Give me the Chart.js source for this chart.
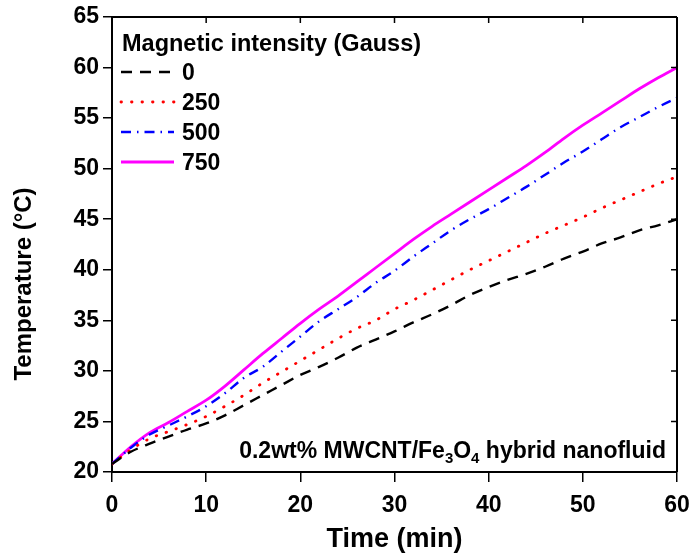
<!DOCTYPE html>
<html>
<head>
<meta charset="utf-8">
<script src="https://cdn.jsdelivr.net/npm/chart.js@4.4.1/dist/chart.umd.min.js"></script>
<style>
  html, body { margin: 0; padding: 0; background: #fff; }
  #wrap { width: 690px; height: 560px; position: relative; }
</style>
</head>
<body>
<div id="wrap"><canvas id="c" width="690" height="560"></canvas></div>
<script>
// ---- data ----
const timeMin = [0, 2, 4, 6, 8, 10, 12, 14, 16, 18, 20, 22, 24, 26, 28, 30,
                 32, 34, 36, 38, 40, 42, 44, 46, 48, 50, 52, 54, 56, 58, 60];
const gauss0 = [20.8, 22.0, 22.8, 23.5, 24.2, 24.8, 25.6, 26.6, 27.6, 28.6, 29.6,
                30.4, 31.3, 32.3, 33.1, 33.9, 34.8, 35.6, 36.5, 37.5, 38.3,
                39.0, 39.6, 40.3, 41.1, 41.8, 42.6, 43.2, 43.9, 44.4, 45.0];
const gauss250 = [20.8, 22.2, 23.3, 24.0, 24.7, 25.5, 26.5, 27.6, 28.8, 29.9, 31.0,
                  32.1, 33.2, 34.2, 35.0, 36.1, 37.0, 38.0, 39.0, 40.0, 40.9,
                  41.8, 42.7, 43.6, 44.4, 45.2, 46.1, 46.9, 47.7, 48.5, 49.2];
const gauss500 = [20.8, 22.4, 23.7, 24.6, 25.5, 26.5, 27.8, 29.3, 30.4, 31.9, 33.4,
                  34.9, 36.1, 37.3, 38.7, 39.9, 41.3, 42.6, 43.9, 45.0, 46.0,
                  47.1, 48.2, 49.4, 50.6, 51.7, 52.9, 54.1, 55.1, 56.1, 57.0];
const gauss750 = [20.8, 22.5, 23.9, 24.9, 26.0, 27.1, 28.5, 30.1, 31.7, 33.2, 34.7,
                  36.1, 37.4, 38.8, 40.2, 41.6, 43.0, 44.3, 45.5, 46.7, 47.9,
                  49.1, 50.3, 51.6, 53.0, 54.3, 55.5, 56.7, 57.9, 59.0, 60.0];
const seriesLabels = ['0', '250', '500', '750'];
const legendTitle = 'Magnetic intensity (Gauss)';
const xTitle = 'Time (min)';
const yTitle = 'Temperature (\u00B0C)';
const xTicks = [0, 10, 20, 30, 40, 50, 60];
const yTicks = [20, 25, 30, 35, 40, 45, 50, 55, 60, 65];

const FONT = '"Liberation Sans", Arial, sans-serif';

function pts(ys) { return ys.map((y, i) => ({ x: timeMin[i], y })); }

const styles = [
  { color: '#000000', dash: [11, 8], width: 2.4, cap: 'butt' },
  { color: '#ff0000', dash: [0.5, 10], width: 2.8, cap: 'round' },
  { color: '#0000ff', dash: [10, 6, 1.5, 6], width: 2.4, cap: 'butt' },
  { color: '#ff00ff', dash: [], width: 2.8, cap: 'butt' }
];
const allSeries = [gauss0, gauss250, gauss500, gauss750];

const datasets = allSeries.map((s, i) => ({
  label: seriesLabels[i],
  data: pts(s),
  borderColor: styles[i].color,
  backgroundColor: styles[i].color,
  borderDash: styles[i].dash,
  borderWidth: styles[i].width,
  borderCapStyle: styles[i].cap,
  pointRadius: 0,
  cubicInterpolationMode: 'monotone',
  fill: false
}));

const framePlugin = {
  id: 'frame',
  afterDraw(chart) {
    const { ctx, chartArea: a, scales } = chart;
    ctx.save();
    ctx.strokeStyle = '#000';
    ctx.lineWidth = 2;
    ctx.beginPath();
    ctx.moveTo(a.left, a.top); ctx.lineTo(a.right, a.top);
    ctx.moveTo(a.right, a.top); ctx.lineTo(a.right, a.bottom);
    ctx.stroke();
    ctx.lineWidth = 1.5;
    ctx.beginPath();
    xTicks.forEach(v => {
      const x = scales.x.getPixelForValue(v);
      ctx.moveTo(x, a.top); ctx.lineTo(x, a.top + 6);
    });
    yTicks.forEach(v => {
      const y = scales.y.getPixelForValue(v);
      ctx.moveTo(a.right, y); ctx.lineTo(a.right - 6, y);
    });
    ctx.stroke();

    // y-axis title (placed lower than the axis centre, as in the reference)
    ctx.save();
    ctx.fillStyle = '#000';
    ctx.font = 'bold 24px ' + FONT;
    ctx.textAlign = 'center';
    ctx.textBaseline = 'middle';
    ctx.translate(24, 284);
    ctx.rotate(-Math.PI / 2);
    ctx.fillText(yTitle, 0, 0);
    ctx.restore();

    // legend
    ctx.fillStyle = '#000';
    ctx.textBaseline = 'alphabetic';
    ctx.textAlign = 'left';
    ctx.font = 'bold 23.5px ' + FONT;
    ctx.fillText(legendTitle, 122, 51);
    chart.data.datasets.forEach((ds, i) => {
      const yc = 72 + i * 30;
      ctx.save();
      ctx.strokeStyle = ds.borderColor;
      ctx.lineWidth = ds.borderWidth;
      ctx.setLineDash(ds.borderDash);
      ctx.lineCap = ds.borderCapStyle;
      ctx.beginPath();
      ctx.moveTo(121, yc); ctx.lineTo(174, yc);
      ctx.stroke();
      ctx.restore();
      ctx.fillStyle = '#000';
      ctx.font = 'bold 23px ' + FONT;
      ctx.fillText(ds.label, 182, yc + 8);
    });

    // annotation with subscripts
    const parts = [
      ['0.2wt% MWCNT/Fe', false], ['3', true], ['O', false], ['4', true], [' hybrid nanofluid', false]
    ];
    const big = 'bold 23px ' + FONT, small = 'bold 15px ' + FONT;
    let total = 0;
    parts.forEach(p => { ctx.font = p[1] ? small : big; total += ctx.measureText(p[0]).width; });
    let x = 666 - total;
    const base = 458;
    parts.forEach(p => {
      ctx.font = p[1] ? small : big;
      ctx.fillText(p[0], x, p[1] ? base + 5 : base);
      x += ctx.measureText(p[0]).width;
    });
    ctx.restore();
  }
};

new Chart(document.getElementById('c'), {
  type: 'line',
  data: { datasets },
  options: {
    responsive: false,
    animation: false,
    devicePixelRatio: 1,
    layout: { padding: { left: 0, right: 13, top: 17, bottom: 0 } },
    plugins: { legend: { display: false }, tooltip: { enabled: false } },
    scales: {
      x: {
        type: 'linear', min: 0, max: 60,
        afterBuildTicks(scale) { scale.ticks = xTicks.map(v => ({ value: v })); },
        afterFit(scale) { scale.height = 88; scale.paddingRight = 0; scale.paddingLeft = 0; },
        ticks: { color: '#000', font: { family: FONT, size: 23, weight: 'bold' }, padding: 10, maxRotation: 0 },
        grid: { drawOnChartArea: false, drawTicks: true, tickLength: 10, color: '#000', lineWidth: 1.5 },
        border: { display: true, color: '#000', width: 2 },
        title: { display: true, text: xTitle, color: '#000', font: { family: FONT, size: 27, weight: 'bold' }, padding: { top: 4 } }
      },
      y: {
        type: 'linear', min: 20, max: 65,
        afterBuildTicks(scale) { scale.ticks = yTicks.map(v => ({ value: v })); },
        afterFit(scale) { scale.width = 112; scale.paddingTop = 0; scale.paddingBottom = 0; },
        ticks: { color: '#000', font: { family: FONT, size: 23, weight: 'bold' }, padding: 4 },
        grid: { drawOnChartArea: false, drawTicks: true, tickLength: 9, color: '#000', lineWidth: 1.5 },
        border: { display: true, color: '#000', width: 2 },
        title: { display: false }
      }
    }
  },
  plugins: [framePlugin]
});
</script>
</body>
</html>
